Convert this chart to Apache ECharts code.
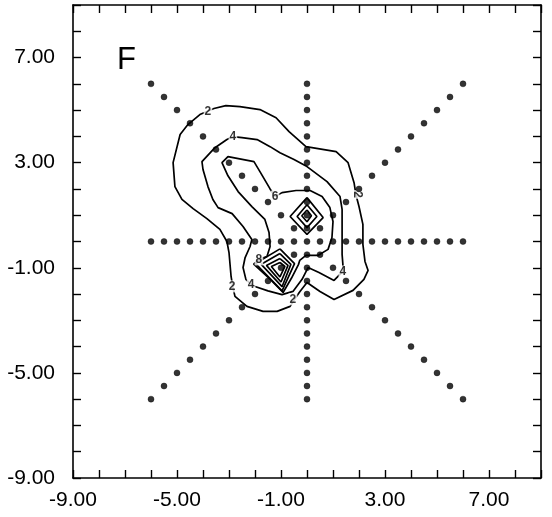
<!DOCTYPE html>
<html><head><meta charset="utf-8">
<script src="https://cdn.jsdelivr.net/npm/echarts@6/dist/echarts.min.js"></script>
<style>html,body{margin:0;padding:0;background:#fff}#c{width:552px;height:517px}</style>
</head><body><div id="c"></div>
<script>
// sample-point rays (offsets along each of 8 directions)
const rayOffsets = [0.5,1,1.5,2,2.5,3,3.5,4,4.5,5,5.5,6];
const rayDirections = [[1,0],[1,1],[0,1],[-1,1],[-1,0],[-1,-1],[0,-1],[1,-1]];
const tickValues = [-9,-5,-1,3,7];

// contour lines (data coordinates)
const contour2 = [[-3.58,5.06],[-4.12,4.83],[-4.58,4.45],[-4.88,4.07],[-5.15,3.0],[-5.08,2.09],[-4.81,1.6],[-4.38,1.25],[-3.85,0.87],[-3.35,0.46],[-3.08,0.0],[-3.0,-0.42],[-2.92,-1.33],[-2.85,-1.75],[-2.77,-2.09],[-2.31,-2.47],[-1.69,-2.66],[-1.15,-2.66],[-0.65,-2.47],[-0.46,-2.17],[-0.27,-1.9],[0,-1.56],[0.5,-1.9],[1.04,-2.21],[1.77,-1.86],[2.19,-1.44],[2.35,-1.1],[2.23,-0.76],[2.15,-0.11],[2.15,0.65],[2.0,1.33],[1.88,1.79],[1.81,2.24],[1.58,3.0],[1.12,3.42],[-0.04,3.61],[-0.69,4.18],[-1.19,4.71],[-1.81,5.02],[-2.58,5.13],[-3.12,5.17],[-3.58,5.06]];
const contour4 = [[-2.85,3.99],[-2.5,3.95],[-1.92,3.88],[-1.42,3.61],[-1.04,3.38],[-0.5,3.12],[0,2.85],[0.77,2.28],[1.27,1.71],[1.35,1.22],[1.35,0.65],[1.35,0.08],[1.35,-0.49],[1.38,-0.87],[1.38,-1.14],[1.04,-1.48],[0.46,-1.18],[0.04,-0.99],[-0.19,-1.44],[-0.54,-1.9],[-0.96,-2.02],[-1.5,-1.88],[-2.0,-1.71],[-2.15,-1.63],[-2.35,-1.44],[-2.46,-0.99],[-2.38,-0.61],[-2.19,-0.19],[-2.12,0.08],[-2.46,0.57],[-2.88,1.06],[-3.42,1.29],[-3.62,1.6],[-3.81,2.09],[-4.0,2.74],[-4.04,3.04],[-3.54,3.57],[-3.08,3.88],[-2.85,3.99]];
const contour6 = [[-1.23,1.71],[-0.96,1.86],[-0.42,1.94],[0.12,1.94],[0.58,1.71],[0.88,1.29],[1.0,0.76],[0.96,0.15],[0.81,-0.3],[0.42,-0.53],[-0.04,-0.53],[-0.28,-0.72],[-0.33,-0.88],[-0.6,-1.4],[-0.92,-1.94],[-1.4,-1.45],[-2.05,-0.86],[-1.85,-0.68],[-1.54,-0.57],[-1.42,-0.19],[-1.46,0.34],[-1.62,0.84],[-2.12,1.33],[-2.65,1.9],[-3.04,2.5],[-3.27,3.0],[-3.04,3.23],[-2.04,3.04],[-1.81,2.66],[-1.42,2.0],[-1.23,1.71]];
const upper1 = [[0,1.67],[0.62,0.91],[0,0.27],[-0.65,0.95],[0,1.67]];
const upper2 = [[0,1.4],[0.38,0.95],[0,0.53],[-0.38,0.95],[0,1.4]];
const upper3 = [[0,1.2],[0.17,0.98],[0,0.75],[-0.2,0.98],[0,1.2]];
const lower1 = [[-1.04,-0.28],[-0.48,-0.84],[-0.96,-1.88],[-1.98,-0.84],[-1.04,-0.28]];
const lower2 = [[-1.04,-0.46],[-0.62,-0.87],[-0.96,-1.72],[-1.76,-0.87],[-1.04,-0.46]];
const lower3 = [[-1.04,-0.65],[-0.73,-0.91],[-1.0,-1.54],[-1.56,-0.91],[-1.04,-0.65]];
const lower4 = [[-1.04,-0.8],[-0.85,-0.95],[-1.04,-1.35],[-1.37,-0.95],[-1.04,-0.8]];
const contours = [contour2,contour4,contour6,upper1,upper2,upper3,lower1,lower2,lower3,lower4];

const labelPositions = [[-3.81,4.94],[1.92,1.79],[-2.88,-1.71],[-0.54,-2.2],[-2.85,3.99],[1.38,-1.14],[-2.15,-1.63],[-1.23,1.71],[-1.85,-0.68]];
const labelTexts = ['2','2','2','2','4','4','4','6','8'];
const labelRotations = [0,-90,0,0,0,0,0,0,0];

const dots = [[0,0]];
rayDirections.forEach(d => rayOffsets.forEach(t => dots.push([d[0]*t, d[1]*t])));

const chart = echarts.init(document.getElementById('c'));
const font = 'Liberation Sans, Arial, sans-serif';
const baseAxis = {
  type:'value', min:-9, max:9, interval:1,
  axisLine:{show:true, onZero:false, lineStyle:{color:'#000', width:1.6}},
  axisTick:{show:true, inside:true, length:8, lineStyle:{color:'#000', width:1.4}},
  splitLine:{show:false}
};
const fmt = v => tickValues.indexOf(v) >= 0 ? v.toFixed(2) : '';
const series = contours.map(c => ({
  type:'line', data:c, showSymbol:false, symbol:'none', silent:true, z:2,
  lineStyle:{color:'#000', width:1.7}, animation:false
}));
series.push({
  type:'scatter', z:3, symbolSize:0, silent:true, animation:false,
  data: labelPositions.map((p,i)=>({value:p, label:{show:true, formatter:labelTexts[i], rotate:labelRotations[i], position:'inside', color:'#000', fontSize:12, fontWeight:'bold', fontFamily:font, backgroundColor:'#fff', padding:[0,1]}}))
});
series.push({
  type:'scatter', z:4, data:dots, symbol:'circle', symbolSize:6, silent:true, animation:false,
  itemStyle:{color:'#000', borderColor:'#000', borderWidth:0.5}
});
chart.setOption({
  animation:false,
  backgroundColor:'#fff',
  title:{text:'F', left:112, top:40, textStyle:{fontFamily:font, fontSize:31, fontWeight:'normal', color:'#000'}},
  grid:{left:73, right:11, top:5, bottom:39},
  xAxis:[
    Object.assign({}, baseAxis, {position:'bottom', axisLabel:{formatter:fmt, color:'#000', fontSize:21, fontFamily:font, margin:12, showMinLabel:true, showMaxLabel:true}}),
    Object.assign({}, baseAxis, {position:'top', axisLabel:{show:false}})
  ],
  yAxis:[
    Object.assign({}, baseAxis, {position:'left', axisLabel:{formatter:fmt, color:'#000', fontSize:21, fontFamily:font, margin:18, showMinLabel:true, showMaxLabel:true}}),
    Object.assign({}, baseAxis, {position:'right', axisLabel:{show:false}})
  ],
  series: series
});
</script></body></html>
